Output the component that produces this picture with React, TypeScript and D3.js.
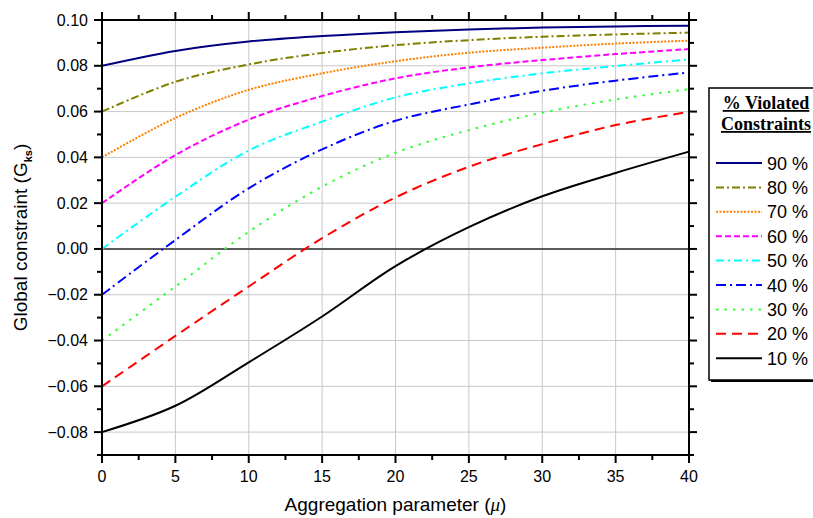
import React from 'react';
import * as d3 from 'd3';

// aggregation parameter values where the curves were read
const mu = [0, 5, 10, 15, 20, 25, 30, 35, 40];

const s90 = [0.080, 0.0865, 0.0906, 0.0930, 0.0947, 0.0959, 0.0967, 0.0972, 0.0975];
const s80 = [0.060, 0.0730, 0.0806, 0.0856, 0.0890, 0.0912, 0.0927, 0.0937, 0.0945];
const s70 = [0.040, 0.0572, 0.0695, 0.0767, 0.0820, 0.0857, 0.0879, 0.0897, 0.0910];
const s60 = [0.020, 0.0410, 0.0565, 0.0668, 0.0745, 0.0793, 0.0825, 0.0851, 0.0873];
const s50 = [0.000, 0.0228, 0.0430, 0.0556, 0.0662, 0.0723, 0.0767, 0.0799, 0.0828];
const s40 = [-0.020, 0.0039, 0.0265, 0.0435, 0.0560, 0.0631, 0.0691, 0.0735, 0.0771];
const s30 = [-0.040, -0.0164, 0.0075, 0.0272, 0.0420, 0.0519, 0.0595, 0.0653, 0.0698];
const s20 = [-0.060, -0.0380, -0.0164, 0.0047, 0.0225, 0.0359, 0.0458, 0.0541, 0.0599];
const s10 = [-0.080, -0.0685, -0.0495, -0.0295, -0.0075, 0.0095, 0.0230, 0.0332, 0.0425];

const labels = ['90 %', '80 %', '70 %', '60 %', '50 %', '40 %', '30 %', '20 %', '10 %'];
const seriesValues = [s90, s80, s70, s60, s50, s40, s30, s20, s10];

const xMajor = [0, 5, 10, 15, 20, 25, 30, 35, 40];
const xMinor = [2.5, 7.5, 12.5, 17.5, 22.5, 27.5, 32.5, 37.5];
const yMajor = [-0.08, -0.06, -0.04, -0.02, 0, 0.02, 0.04, 0.06, 0.08, 0.1];
const yMinor = [-0.09, -0.07, -0.05, -0.03, -0.01, 0.01, 0.03, 0.05, 0.07, 0.09];

// look of each series
const styles = [
  { color: '#000080', dash: '' },
  { color: '#808000', dash: '8 3 2 3' },
  { color: '#ff8000', dash: '2 1.5' },
  { color: '#ff00ff', dash: '6 3' },
  { color: '#00ffff', dash: '8 4 2 4' },
  { color: '#0000ff', dash: '10 4 2 4' },
  { color: '#33ff33', dash: '2.5 6' },
  { color: '#ff0000', dash: '10 6' },
  { color: '#000000', dash: '' },
];

const W = 813;
const H = 518;
const left = 102, right = 689, top = 20, bottom = 455;

const App = () => {
  const x = d3.scaleLinear().domain([0, 40]).range([left, right]);
  const y = d3.scaleLinear().domain([-0.09, 0.1]).range([bottom, top]);

  const line = d3.line<[number, number]>()
    .x(d => x(d[0]))
    .y(d => y(d[1]))
    .curve(d3.curveCatmullRom.alpha(0.5));

  const font = '"Liberation Sans", Arial, sans-serif';

  return (
    <svg width={W} height={H} style={{ position: 'absolute', left: 0, top: 0, background: '#fff' }}
      fontFamily={font}>
      {/* grid */}
      {xMajor.slice(1, -1).map(t => (
        <line key={'gx' + t} x1={x(t)} x2={x(t)} y1={top} y2={bottom} stroke="#c8c8c8" strokeWidth={1} />
      ))}
      {yMajor.filter(t => t !== 0 && t < 0.1).map(t => (
        <line key={'gy' + t} x1={left} x2={right} y1={y(t)} y2={y(t)} stroke="#c8c8c8" strokeWidth={1} />
      ))}
      <line x1={left} x2={right} y1={y(0)} y2={y(0)} stroke="#5a5a5a" strokeWidth={2} />

      {/* curves */}
      {seriesValues.map((vals, i) => (
        <path key={labels[i]}
          d={line(mu.map((m, j) => [m, vals[j]] as [number, number])) || ''}
          fill="none" stroke={styles[i].color} strokeWidth={2}
          strokeDasharray={styles[i].dash || undefined} />
      ))}

      {/* frame */}
      <rect x={left} y={top} width={right - left} height={bottom - top} fill="none" stroke="#000" strokeWidth={2} />

      {/* ticks */}
      {xMajor.map(t => (
        <g key={'xt' + t}>
          <line x1={x(t)} x2={x(t)} y1={bottom} y2={bottom + 8} stroke="#000" strokeWidth={2} />
          <line x1={x(t)} x2={x(t)} y1={top} y2={top - 8} stroke="#000" strokeWidth={2} />
          <text x={x(t)} y={482} fontSize={16} textAnchor="middle">{t}</text>
        </g>
      ))}
      {xMinor.map(t => (
        <g key={'xm' + t}>
          <line x1={x(t)} x2={x(t)} y1={bottom} y2={bottom + 5} stroke="#000" strokeWidth={2} />
          <line x1={x(t)} x2={x(t)} y1={top} y2={top - 5} stroke="#000" strokeWidth={2} />
        </g>
      ))}
      {yMajor.map(t => (
        <g key={'yt' + t}>
          <line x1={left} x2={left - 8} y1={y(t)} y2={y(t)} stroke="#000" strokeWidth={2} />
          <line x1={right} x2={right + 8} y1={y(t)} y2={y(t)} stroke="#000" strokeWidth={2} />
          <text x={88} y={y(t) + 5.5} fontSize={16} textAnchor="end">{d3.format('.2f')(t)}</text>
        </g>
      ))}
      {yMinor.map(t => (
        <g key={'ym' + t}>
          <line x1={left} x2={left - 5} y1={y(t)} y2={y(t)} stroke="#000" strokeWidth={2} />
          <line x1={right} x2={right + 5} y1={y(t)} y2={y(t)} stroke="#000" strokeWidth={2} />
        </g>
      ))}

      {/* axis titles */}
      <text x={(left + right) / 2} y={511} fontSize={19} textAnchor="middle">
        Aggregation parameter (<tspan fontStyle="italic" fontFamily='"Liberation Serif", serif'>μ</tspan>)
      </text>
      <text transform={`translate(27,${(top + bottom) / 2}) rotate(-90)`} fontSize={19} textAnchor="middle">
        Global constraint (G<tspan fontSize={11} fontWeight="bold" dy={5}>ks</tspan><tspan dy={-5}>)</tspan>
      </text>

      {/* legend */}
      <rect x={711} y={90} width={120} height={292} fill="#000" />
      <rect x={709} y={88} width={120} height={292} fill="#fff" stroke="#000" strokeWidth={1.5} />
      <text x={766} y={109} fontSize={18} fontWeight="bold" textAnchor="middle" textDecoration="underline"
        fontFamily='"Liberation Serif", "Times New Roman", serif'>% Violated</text>
      <text x={766} y={130} fontSize={18} fontWeight="bold" textAnchor="middle" textDecoration="underline"
        fontFamily='"Liberation Serif", "Times New Roman", serif'>Constraints</text>
      {labels.map((lab, i) => {
        const ly = 163 + i * 24.4;
        return (
          <g key={'lg' + lab}>
            <line x1={716} x2={762} y1={ly} y2={ly} stroke={styles[i].color} strokeWidth={2}
              strokeDasharray={styles[i].dash || undefined} />
            <text x={767} y={ly + 6.5} fontSize={18}>{lab}</text>
          </g>
        );
      })}
    </svg>
  );
};

export default App;
